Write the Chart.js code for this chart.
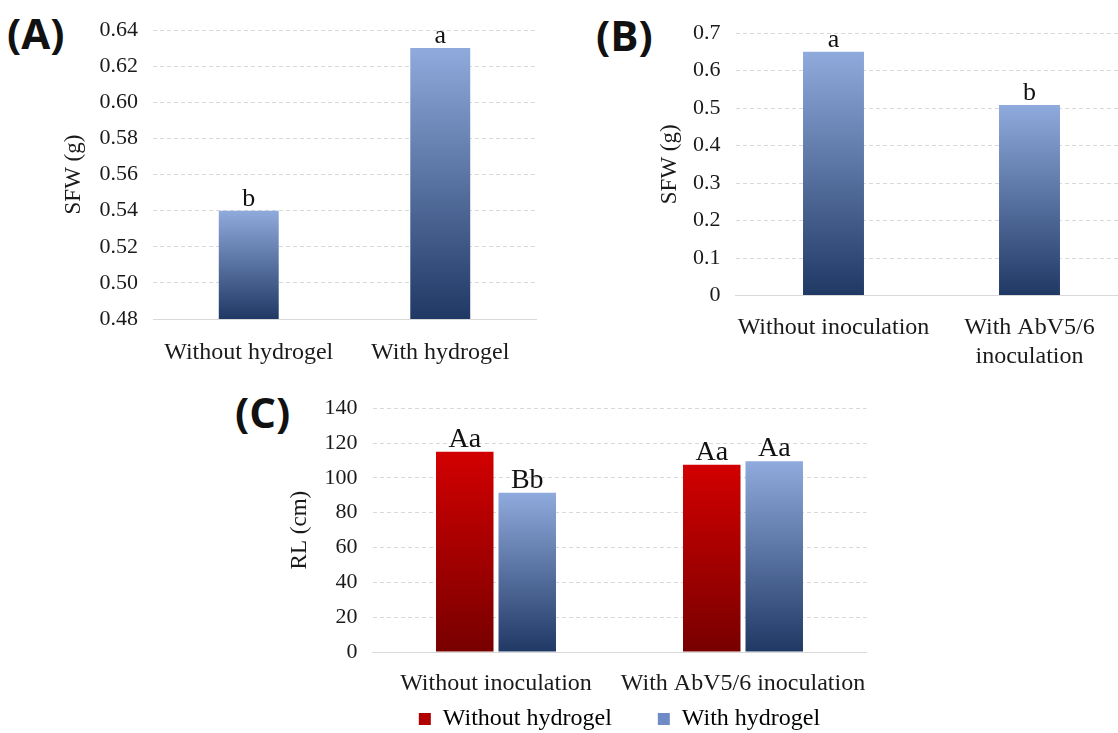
<!DOCTYPE html>
<html>
<head>
<meta charset="utf-8">
<script src="https://cdn.jsdelivr.net/npm/chart.js@4"></script>
<style>
  html, body { margin: 0; padding: 0; background: #fff; }
  body { width: 1118px; height: 733px; overflow: hidden; position: relative; }
  .box { position: absolute; }
  .tag { position: absolute; font-family: 'Open Sans', sans-serif; font-weight: 700; font-size: 42px; line-height: 1; color: #111; }
</style>
</head>
<body>
<div class="tag" style="left:7px;top:12px">(A)</div>
<div class="tag" style="left:596px;top:14px">(B)</div>
<div class="tag" style="left:235px;top:391px">(C)</div>

<div class="box" style="left:0;top:0;width:560px;height:370px"><canvas id="chartA"></canvas></div>
<div class="box" style="left:560px;top:0;width:600px;height:370px"><canvas id="chartB"></canvas></div>
<div class="box" style="left:220px;top:380px;width:670px;height:361px"><canvas id="chartC"></canvas></div>

<script>
// (A) shoot fresh weight by hydrogel
var hydroLabels = ['Without hydrogel', 'With hydrogel'];
var sfwHydro = [0.54, 0.63];
var sfwHydroMarks = ['b', 'a'];
var ticksA = [0.48, 0.64, 0.02];

// (B) shoot fresh weight by inoculation
var inocLabels = ['Without inoculation', ['With AbV5/6', 'inoculation']];
var sfwInoc = [0.65, 0.508];
var sfwInocMarks = ['a', 'b'];
var ticksB = [0, 0.7, 0.1];

// (C) root length, inoculation x hydrogel
var inocLabelsC = ['Without inoculation', 'With AbV5/6 inoculation'];
var seriesNames = ['Without hydrogel', 'With hydrogel'];
var rlWithout = [115, 107.5];
var rlWith = [91.5, 109.5];
var rlWithoutMarks = ['Aa', 'Aa'];
var rlWithMarks = ['Bb', 'Aa'];
var ticksC = [0, 140, 20];

Chart.defaults.font.family = "'Liberation Serif', 'Times New Roman', serif";
Chart.defaults.color = '#262626';
Chart.defaults.animation = false;
Chart.defaults.events = [];
Chart.defaults.plugins.tooltip.enabled = false;

var BLUE = ['#8faadc', '#203864'];
var RED = ['#d20000', '#780000'];

function grad(cols, fallback) {
  return function(c) {
    var chart = c.chart;
    var area = chart.chartArea;
    if (!area || c.type !== 'data') return fallback;
    var y = chart.scales.y.getPixelForValue(c.raw);
    var g = chart.ctx.createLinearGradient(0, y, 0, area.bottom);
    g.addColorStop(0, cols[0]);
    g.addColorStop(1, cols[1]);
    return g;
  };
}

// letters over the bars
var barMarks = {
  id: 'barMarks',
  afterDatasetsDraw: function(chart, args, opts) {
    var ctx = chart.ctx;
    ctx.save();
    ctx.font = (opts.size || 26) + "px 'Liberation Serif'";
    ctx.fillStyle = '#111';
    ctx.textAlign = 'center';
    ctx.textBaseline = 'alphabetic';
    chart.data.datasets.forEach(function(ds, i) {
      chart.getDatasetMeta(i).data.forEach(function(bar, j) {
        ctx.fillText(ds.marks[j], bar.x, bar.y - 5);
      });
    });
    ctx.restore();
  }
};

function scalesFor(t, yW, xH, title, fmt, pad) {
  return {
    x: {
      grid: { display: false },
      border: { display: true, color: '#d9d9d9', width: 1 },
      ticks: { font: { size: 24 }, padding: pad, color: '#1a1a1a', autoSkip: false, minRotation: 0, maxRotation: 0 },
      afterFit: function(s) { s.height = xH; }
    },
    y: {
      min: t[0], max: t[1],
      grid: { color: '#d9d9d9', drawTicks: false },
      border: { display: false, dash: [4, 3] },
      ticks: { stepSize: t[2], autoSkip: false, font: { size: 22 }, padding: 15, color: '#1a1a1a', callback: fmt },
      title: { display: true, text: title, font: { size: 23 }, color: '#1a1a1a' },
      afterFit: function(s) { s.width = yW; }
    }
  };
}

new Chart(document.getElementById('chartA'), {
  type: 'bar',
  data: {
    labels: hydroLabels,
    datasets: [{
      data: sfwHydro, marks: sfwHydroMarks,
      backgroundColor: grad(BLUE, BLUE[1]),
      categoryPercentage: 1, barPercentage: 0.313
    }]
  },
  options: {
    responsive: true, maintainAspectRatio: false,
    layout: { padding: { left: 56, right: 24, top: 30, bottom: 0 } },
    plugins: { legend: { display: false }, barMarks: { size: 26 } },
    scales: scalesFor(ticksA, 97, 51, 'SFW (g)', function(v) { return v.toFixed(2); }, 11)
  },
  plugins: [barMarks]
});

new Chart(document.getElementById('chartB'), {
  type: 'bar',
  data: {
    labels: inocLabels,
    datasets: [{
      data: sfwInoc, marks: sfwInocMarks,
      backgroundColor: grad(BLUE, BLUE[1]),
      categoryPercentage: 1, barPercentage: 0.311
    }]
  },
  options: {
    responsive: true, maintainAspectRatio: false,
    layout: { padding: { left: 92, right: 32.5, top: 33, bottom: 0 } },
    plugins: { legend: { display: false }, barMarks: { size: 26 } },
    scales: scalesFor(ticksB, 83.5, 74.5, 'SFW (g)', function(v) { return v === 0 ? '0' : v.toFixed(1); }, 10)
  },
  plugins: [barMarks]
});

new Chart(document.getElementById('chartC'), {
  type: 'bar',
  data: {
    labels: inocLabelsC,
    datasets: [{
      label: seriesNames[0], data: rlWithout, marks: rlWithoutMarks,
      backgroundColor: grad(RED, RED[1]),
      categoryPercentage: 0.506, barPercentage: 0.92
    }, {
      label: seriesNames[1], data: rlWith, marks: rlWithMarks,
      backgroundColor: grad(BLUE, BLUE[1]),
      categoryPercentage: 0.506, barPercentage: 0.92
    }]
  },
  options: {
    responsive: true, maintainAspectRatio: false,
    layout: { padding: { left: 62, right: 23.5, top: 27, bottom: 0 } },
    plugins: {
      barMarks: { size: 28 },
      legend: {
        position: 'bottom', fullSize: false,
        labels: {
          font: { size: 24 }, color: '#1a1a1a', boxWidth: 12, boxHeight: 12, padding: 10,
          generateLabels: function() {
            // trailing em/en space widens the gap between the two entries
            return [
              { text: seriesNames[0] + '\u2003\u2002', fillStyle: '#b00000', strokeStyle: '#b00000', lineWidth: 0, hidden: false, datasetIndex: 0 },
              { text: seriesNames[1], fillStyle: '#6f8bc6', strokeStyle: '#6f8bc6', lineWidth: 0, hidden: false, datasetIndex: 1 }
            ];
          }
        }
      }
    },
    scales: scalesFor(ticksC, 90.5, 45, 'RL (cm)', function(v) { return v; }, 9)
  },
  plugins: [barMarks]
});
</script>
</body>
</html>
